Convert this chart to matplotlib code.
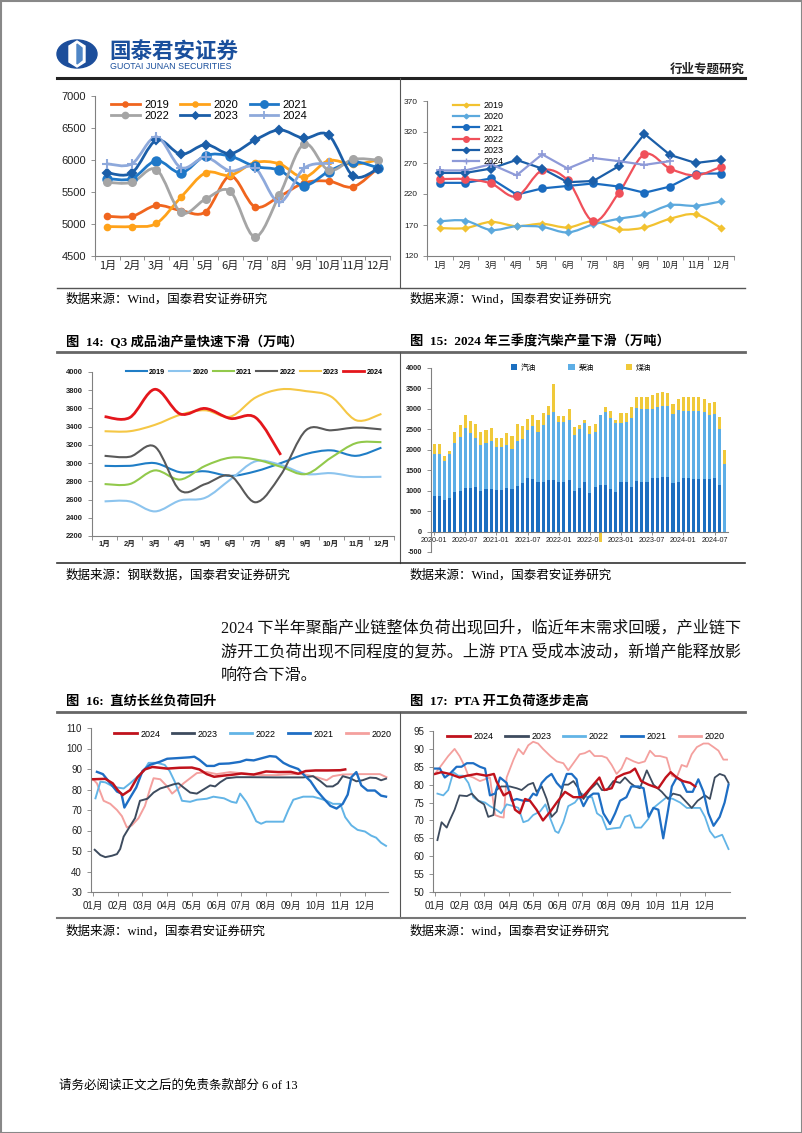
import numpy as np
import matplotlib
matplotlib.use("Agg")
import matplotlib.pyplot as plt
from matplotlib.path import Path
from matplotlib.patches import PathPatch, Ellipse, Polygon, Rectangle
from matplotlib.lines import Line2D

W, H = 802, 1133
SANS = ["Liberation Sans", "Noto Sans CJK SC"]
SERIF = ["Liberation Serif", "Noto Sans CJK SC"]
plt.rcParams["font.family"] = SANS
plt.rcParams["axes.unicode_minus"] = False

# ---------------- data ----------------
months = ["1月", "2月", "3月", "4月", "5月", "6月", "7月", "8月", "9月", "10月", "11月", "12月"]

# chart 1 (top left)
c1_2019 = [5120, 5120, 5290, 5210, 5190, 5750, 5270, 5430, 5640, 5670, 5580, 5870]
c1_2020 = [4960, 4960, 5010, 5420, 5800, 5760, 5960, 5940, 5730, 5990, 5930, 6000]
c1_2021 = [5710, 5710, 5990, 5800, 6070, 6060, 5900, 5840, 5600, 5820, 5970, 5880]
c1_2022 = [5650, 5650, 5850, 5180, 5390, 5510, 4800, 5450, 6250, 5840, 6010, 6000]
c1_2023 = [5800, 5800, 6310, 6090, 6240, 6100, 6310, 6470, 6340, 6390, 5750, 5860]
c1_2024 = [5940, 5940, 6360, 5880, 6040, 5830, 5880, 5340, 5870, 5950]

# chart 2 (top right)
c2_2019 = [165, 165, 175, 168, 172, 166, 176, 163, 166, 180, 187, 165]
c2_2020 = [176, 177, 162, 168, 167, 158, 171, 180, 187, 202, 201, 208]
c2_2021 = [238, 238, 245, 219, 229, 233, 237, 232, 222, 232, 253, 253]
c2_2022 = [244, 244, 237, 216, 258, 242, 176, 222, 284, 261, 250, 264]
c2_2023 = [254, 254, 261, 275, 261, 239, 241, 265, 317, 283, 270, 275]
c2_2024 = [258, 258, 268, 250, 284, 261, 278, 273, 267, 273]

# chart 3 (fig 14)
c3_2019 = [2970, 2970, 3000, 2900, 2910, 2860, 2910, 3000, 3100, 3140, 3080, 3170]
c3_2020 = [2580, 2580, 2470, 2590, 2620, 2820, 3020, 2980, 2880, 2890, 2850, 2850]
c3_2021 = [2770, 2770, 2920, 2820, 2970, 3060, 3040, 2960, 2880, 3060, 3220, 3230]
c3_2022 = [3080, 3070, 3180, 2700, 2770, 2860, 2570, 2870, 3360, 3360, 3390, 3370]
c3_2023 = [3350, 3350, 3420, 3530, 3580, 3510, 3720, 3810, 3790, 3730, 3470, 3540]
c3_2024 = [3510, 3500, 3810, 3540, 3600, 3490, 3500, 3090]

# chart 4 (fig 15): monthly 2020-01 .. 2024-09
gasoline = [880, 880, 760, 810, 960, 980, 1070, 1070, 1080, 990, 1040, 1030,
            1020, 1020, 1070, 1040, 1110, 1180, 1310, 1290, 1200, 1200, 1270, 1250,
            1200, 1200, 1250, 1000, 1070, 1200, 940, 1080, 1130, 1140, 1040, 960,
            1210, 1210, 1080, 1230, 1210, 1220, 1310, 1320, 1340, 1330, 1190, 1210,
            1300, 1300, 1290, 1290, 1290, 1280, 1310, 1140, 0]
diesel = [1010, 1020, 960, 1090, 1200, 1340, 1470, 1330, 1210, 1120, 1130, 1180,
          1060, 1060, 1040, 970, 1110, 1080, 1170, 1280, 1230, 1400, 1580, 1670,
          1480, 1480, 1490, 1370, 1450, 1450, 1440, 1350, 1730, 1790, 1730, 1690,
          1450, 1470, 1700, 1780, 1780, 1770, 1690, 1720, 1730, 1750, 1680, 1770,
          1650, 1650, 1650, 1650, 1630, 1560, 1570, 1360, 1660]
kerosene = [260, 250, 130, 80, 270, 280, 300, 300, 350, 320, 320, 330,
            220, 220, 310, 330, 400, 330, 280, 270, 290, 300, 230, 680,
            140, 140, 260, 190, 90, 90, 210, 200, -250, 120, 180, 90,
            230, 210, 270, 290, 300, 300, 340, 350, 350, 320, 250, 260,
            350, 350, 360, 350, 320, 310, 300, 290, 340]
bar_ticks = ["2020-01", "2020-07", "2021-01", "2021-07", "2022-01", "2022-07",
             "2023-01", "2023-07", "2024-01", "2024-07"]

# chart 5 (fig 16): x in months from 01月
c5_2024_x = [0, 0.5, 0.8, 1.0, 1.2, 1.5, 1.8, 2.1, 2.4, 3.0, 3.5, 4.0, 4.3, 4.6, 4.9, 5.3, 5.7,
             6.0, 6.5, 7.0, 7.5, 8.0, 8.3, 8.6, 9.0, 9.5, 10.0, 10.2]
c5_2024_y = [85, 85.2, 83, 79.7, 77.3, 79.7, 86, 89.8, 91, 90.2, 90.6, 90.7, 89.8, 87.5, 86.2,
             86.8, 87.3, 87.8, 87.3, 88.8, 88.5, 88.6, 87.7, 89, 89.3, 89.3, 89.4, 89.8]
c5_2023_x = [0.07, 0.3, 0.5, 0.77, 0.97, 1.1, 1.24, 1.44, 1.7, 1.9, 2.2, 2.45, 2.72, 3.0, 3.25,
             3.46, 3.66, 3.93, 4.2, 4.47, 4.74, 4.94, 5.14, 5.4, 5.8, 6.35, 7.4, 8.5, 8.9, 9.2,
             9.45, 9.7, 9.9, 10.1, 10.4, 10.65, 10.9, 11.2, 11.45, 11.65, 11.85]
c5_2023_y = [50.6, 48, 47, 47.7, 48.5, 51, 57, 61, 66, 74.5, 75.5, 78.5, 80.5, 81.5, 82.5,
             83, 81, 78.5, 78, 80, 82, 81.5, 83.5, 85.5, 86, 86, 85.9, 85.9, 86.5, 84,
             81.5, 81.5, 83, 86.5, 85.5, 84, 84.5, 85.8, 85.6, 84.5, 85.3]
c5_2022_x = [0.1, 0.3, 0.5, 0.77, 0.97, 1.24, 1.5, 1.78, 2.05, 2.25, 2.6, 2.9, 3.1, 3.3, 3.6,
             3.93, 4.2, 4.6, 4.87, 5.3, 5.6, 5.8, 5.95, 6.2, 6.4, 6.6, 6.8, 7.0, 7.4, 7.7, 7.9,
             8.1, 8.5, 8.9, 9.2, 9.45, 9.7, 10.0, 10.2, 10.45, 10.7, 11.0, 11.25, 11.45,
             11.65, 11.85]
c5_2022_y = [75.7, 83.8, 83.5, 81.7, 81, 80.5, 83, 86, 89, 93, 93, 92, 89, 84, 74.5,
             74, 75, 75.5, 76.5, 75.7, 74, 73.5, 78, 74, 69.5, 64.5, 63.3, 64.3, 64.3, 64.3, 70,
             75, 76.5, 76.5, 75.5, 74.5, 73, 73, 66.5, 62.5, 60.3, 59.5, 57.5, 56.5,
             54, 52.5]
c5_2021_x = [0.16, 0.4, 0.77, 0.97, 1.15, 1.27, 1.5, 1.75, 2.0, 2.3, 2.7, 3.0, 3.4, 3.65, 3.9,
             4.1, 4.3, 4.6, 4.9, 5.1, 5.5, 5.95, 6.2, 6.5, 6.9, 7.15, 7.4, 7.7, 7.95, 8.3,
             8.5, 8.8, 9.05, 9.3, 9.6, 9.85, 10.1, 10.3, 10.45, 10.65, 10.85, 11.1, 11.4,
             11.65, 11.85]
c5_2021_y = [88.6, 87.5, 82, 79, 78, 71.2, 76, 81, 89, 92, 93.5, 95, 95.3, 95.5, 95.7,
             96, 94.5, 91.5, 91.5, 92.5, 92.7, 93.5, 94.5, 94.2, 95.5, 96.3, 96, 93, 91.5, 90,
             87.5, 84, 79.5, 76, 72, 70.7, 73, 77.5, 86, 88.5, 82, 79.5, 79.5,
             77, 76.5]
c5_2020_x = [0, 0.16, 0.43, 0.7, 0.97, 1.17, 1.37, 1.57, 1.84, 2.1, 2.3, 2.45, 2.72, 3.0, 3.2,
             3.4, 3.66, 3.93, 4.2, 4.6, 5.0, 5.55, 5.95, 6.35, 6.9, 7.4, 7.97, 8.5, 9.05, 9.45,
             9.7, 10.1, 10.65, 11.2, 11.6, 11.87]
c5_2020_y = [85, 83, 74.5, 73, 70, 67, 61.5, 62.5, 66, 72, 80, 85.5, 85, 81.5, 78,
             80, 83, 85.5, 88, 88.5, 87.5, 88.5, 88, 87.5, 87, 87, 87.5, 87.5, 86, 84.5,
             86.5, 87.3, 87.5, 87.5, 87.5, 86]

# chart 6 (fig 17)
c6_2024_x = [0, 0.27, 0.6, 1.0, 1.3, 1.7, 2.1, 2.4, 2.5, 2.8, 3.05, 3.26, 3.46, 3.67, 3.87,
             4.14, 4.4, 4.7, 4.96, 5.3, 5.64, 6.0, 6.2, 6.45, 6.7, 6.9, 7.2, 7.4, 7.7, 7.95,
             8.15, 8.4, 8.7, 9.1, 9.4, 9.6, 9.85, 10.1, 10.4, 10.6]
c6_2024_y = [83, 83.5, 83, 82, 82.5, 83, 82.5, 83, 81, 77, 78, 73, 72, 76, 75.5,
             73, 70, 72.5, 75, 78, 76.5, 76.5, 78, 80, 82, 78.5, 79, 82, 83, 83.5,
             84.5, 81, 80, 79, 82, 83.5, 82, 81, 80.5, 79.5]
c6_2023_x = [0.1, 0.27, 0.48, 0.6, 0.8, 1.0, 1.3, 1.5, 1.77, 2.0, 2.17, 2.38, 2.5, 2.7, 3.05,
             3.33, 3.53, 3.8, 4.0, 4.14, 4.35, 4.55, 4.75, 4.96, 5.23, 5.43, 5.64, 5.84, 6.05,
             6.3, 6.6, 6.8, 7.0, 7.27, 7.54, 7.74, 7.95, 8.15, 8.35, 8.63, 8.9, 9.24, 9.5,
             9.7, 9.99, 10.26, 10.46, 10.7, 11.0, 11.2, 11.4, 11.6, 11.8, 11.96]
c6_2023_y = [64.5, 69.5, 68, 70, 73, 77, 76.8, 77.5, 75.5, 74.5, 71, 71.5, 78.5, 79.5, 79.5,
             79, 78.5, 80, 80.5, 78, 79.5, 76, 71, 72.5, 80, 80, 81, 79, 76,
             78.5, 80.5, 78.5, 78.5, 81, 80.5, 82, 80.5, 79.5, 79, 84, 80, 78, 76,
             77.5, 77, 75, 73.5, 75.5, 77, 76, 82, 83, 82.5, 80.5]
c6_2022_x = [0.1, 0.34, 0.54, 0.75, 0.95, 1.15, 1.36, 1.56, 1.77, 2.04, 2.24, 2.5, 2.7, 2.92,
             3.2, 3.4, 3.6, 3.8, 4.0, 4.28, 4.5, 4.7, 4.9, 5.03, 5.23, 5.43, 5.7, 5.98, 6.2,
             6.4, 6.6, 6.8, 7.0, 7.27, 7.54, 7.74, 7.95, 8.15, 8.4, 8.7, 8.9, 9.17, 9.44, 9.7,
             9.99, 10.26, 10.5, 10.8, 11.0, 11.2, 11.4, 11.7, 11.96]
c6_2022_y = [77.5, 77, 78.5, 83.5, 82.5, 82.5, 80.5, 76.5, 75.5, 75, 74, 73, 72, 74.5,
             74, 73.5, 69.5, 70, 71.5, 72.5, 74.5, 70.5, 67, 66.5, 69.5, 74, 75, 77.5, 76.5,
             76.5, 72, 71, 67.5, 67.8, 68, 71, 71.5, 68, 68, 70.5, 73.5, 75, 76.5, 76,
             75, 73.5, 73.5, 73.5, 71, 67, 65.2, 66, 62]
c6_2021_x = [0, 0.2, 0.4, 0.6, 0.88, 1.08, 1.3, 1.56, 1.83, 2.04, 2.24, 2.45, 2.65, 2.92,
             3.13, 3.33, 3.6, 3.8, 4.0, 4.14, 4.35, 4.55, 4.75, 4.96, 5.16, 5.37, 5.57, 5.77,
             5.9, 6.05, 6.25, 6.45, 6.66, 6.86, 7.13, 7.34, 7.54, 7.8, 8.0, 8.3, 8.5, 8.7,
             8.9, 9.1, 9.3, 9.5, 9.65, 9.85, 10.05, 10.26, 10.5, 10.73, 10.94, 11.14, 11.35,
             11.6, 11.8, 11.96]
c6_2021_y = [84.5, 84.5, 82, 83, 85, 85, 86, 86, 85, 84.5, 77, 77.5, 82, 80.5,
             75.5, 76, 75.5, 75.5, 77.5, 77, 80.5, 82, 83, 80.5, 79, 83, 83, 81.5,
             76.5, 74, 76.5, 77.5, 77.5, 72, 69, 72, 75.5, 76.5, 79.5, 79.5, 79, 71,
             73.5, 73, 65, 73, 79.5, 82, 81, 78, 78, 81.5, 78, 72, 68.5,
             71, 75, 80]
c6_2020_x = [0, 0.27, 0.54, 0.8, 1.0, 1.22, 1.36, 1.56, 1.83, 2.04, 2.24, 2.45, 2.65, 2.8,
             2.92, 3.2, 3.4, 3.6, 3.8, 4.0, 4.2, 4.4, 4.7, 4.96, 5.23, 5.43, 5.64, 5.9, 6.1,
             6.3, 6.5, 6.8, 7.0, 7.2, 7.4, 7.6, 7.8, 8.1, 8.3, 8.55, 8.76, 8.97, 9.17, 9.44,
             9.65, 9.85, 10.05, 10.26, 10.46, 10.67, 10.94, 11.14, 11.35, 11.55, 11.75, 11.9]
c6_2020_y = [83, 85.5, 88, 90, 88, 85, 82.5, 82, 81, 81.5, 82, 71.5, 71, 70.8,
             82, 87, 90, 88.5, 91, 92, 91.5, 90, 88, 86.5, 86, 84, 86, 88.5, 88.8,
             89.5, 88, 88, 87.5, 85.5, 83, 84.5, 87.5, 86.5, 86, 86.5, 89.5, 88, 88, 87.5,
             82.5, 82, 85.5, 85, 88.5, 90.5, 91.5, 91.5, 90.5, 89.5, 87, 87]
month2 = ["01月", "02月", "03月", "04月", "05月", "06月", "07月", "08月", "09月", "10月", "11月", "12月"]

fig = plt.figure(figsize=(W / 100, H / 100), dpi=100)


def px_ax(x0, y0, x1, y1):
    return fig.add_axes([x0 / W, 1 - y1 / H, (x1 - x0) / W, (y1 - y0) / H])


def ftext(x, y, s, **kw):
    fig.text(x / W, 1 - y / H, s, **kw)


def hline(y, x0, x1, lw=1.0, color="#555555"):
    fig.add_artist(Line2D([x0 / W, x1 / W], [1 - y / H, 1 - y / H], lw=lw, color=color))


def vline(x, y0, y1, lw=0.8, color="#555555"):
    fig.add_artist(Line2D([x / W, x / W], [1 - y0 / H, 1 - y1 / H], lw=lw, color=color))


def smooth(ax, x, y, **kw):
    pts = np.column_stack([x, y]).astype(float)
    n = len(pts)
    verts, codes = [pts[0]], [Path.MOVETO]
    for i in range(n - 1):
        p0 = pts[i - 1] if i > 0 else pts[i]
        p3 = pts[i + 2] if i + 2 < n else pts[i + 1]
        verts += [pts[i] + (pts[i + 1] - p0) / 6, pts[i + 1] - (p3 - pts[i]) / 6, pts[i + 1]]
        codes += [Path.CURVE4] * 3
    ax.add_patch(PathPatch(Path(verts, codes), fill=False, **kw))


def style(ax, lsize=7.5):
    for s in ("top", "right"):
        ax.spines[s].set_visible(False)
    for s in ("left", "bottom"):
        ax.spines[s].set_color("#808080")
        ax.spines[s].set_linewidth(0.8)
    ax.tick_params(colors="#808080", labelcolor="#222222", labelsize=lsize, length=3, width=0.6)


# ---------------- page frame / header ----------------
fig.add_artist(Rectangle((0.5 / W, 0.5 / H), 1 - 1 / W, 1 - 1 / H, transform=fig.transFigure,
                         fill=False, ec="#888888", lw=1.5))
fig.add_artist(Ellipse((77 / W, 1 - 54 / H), 40 / W, 28 / H, transform=fig.transFigure,
                       color="#1C4E9B"))
fig.add_artist(Polygon([(77 / W, 1 - 41 / H), (85 / W, 1 - 46 / H), (85 / W, 1 - 62 / H),
                        (77 / W, 1 - 67 / H), (69 / W, 1 - 62 / H), (69 / W, 1 - 46 / H)],
                       closed=True, transform=fig.transFigure, color="white"))
fig.add_artist(Polygon([(77 / W, 1 - 44 / H), (82 / W, 1 - 48 / H), (82 / W, 1 - 60 / H),
                        (77 / W, 1 - 64 / H)], closed=True, transform=fig.transFigure,
                       color="#4F86C6"))
ftext(109, 51, "国泰君安证券", fontsize=15.5, fontweight="bold", color="#1A4F9C",
      family="Noto Sans CJK SC", va="center")
ftext(110, 66.5, "GUOTAI JUNAN SECURITIES", fontsize=6.4, color="#1A4F9C", va="center")
ftext(745, 69, "行业专题研究", fontsize=9, fontweight="bold", color="#222222",
      family="Noto Sans CJK SC", ha="right", va="center")
hline(78, 57, 745, lw=2.2, color="#222222")

# ---------------- row 1 ----------------
vline(400, 78, 288)
hline(288, 57, 745, lw=1.0)
ftext(66, 299, "数据来源：Wind，国泰君安证券研究", fontsize=9, family=SERIF, va="center")
ftext(410, 299, "数据来源：Wind，国泰君安证券研究", fontsize=9, family=SERIF, va="center")

ax1 = px_ax(95, 96, 390, 256)
cx = np.arange(12)
c1 = [("2019", c1_2019, "#F0651E", "o", 4), ("2020", c1_2020, "#FFA21A", "o", 4),
      ("2021", c1_2021, "#1F78C8", "o", 6), ("2022", c1_2022, "#A5A5A5", "o", 5),
      ("2023", c1_2023, "#1B5EA8", "D", 4), ("2024", c1_2024, "#8EA9DB", "+", 7)]
h1 = {}
for name, vals, col, mk, ms in c1:
    xs = cx[:len(vals)]
    smooth(ax1, xs, vals, ec=col, lw=2.0, zorder=2)
    ax1.plot(xs, vals, ls="none", marker=mk, ms=ms, color=col, mew=1.5, zorder=3)
    h1[name] = Line2D([], [], color=col, lw=2.0, marker=mk, ms=ms * 0.85, mew=1.3, label=name)
ax1.set_xlim(-0.5, 11.5)
ax1.set_ylim(4500, 7000)
ax1.set_yticks(np.arange(4500, 7001, 500))
ax1.set_xticks(cx)
ax1.set_xticklabels(months, fontsize=6, family="Noto Sans CJK SC")
ax1.set_xticks(np.arange(-0.5, 12, 1), minor=True)
style(ax1, 8)
ax1.tick_params(axis="x", which="major", length=0)
ax1.tick_params(axis="x", which="minor", length=3, color="#808080")
order1 = ["2019", "2022", "2020", "2023", "2021", "2024"]
ax1.legend(handles=[h1[n] for n in order1], ncol=3, loc="upper left",
           bbox_to_anchor=(0.02, 1.04), frameon=False, fontsize=8, handlelength=2.6,
           columnspacing=1.0, labelspacing=0.15, handletextpad=0.4)

ax2 = px_ax(427, 101, 734, 256)
c2 = [("2019", c2_2019, "#F2C230", "D", 3, True), ("2020", c2_2020, "#5CA9DD", "D", 3, True),
      ("2021", c2_2021, "#1A6BBF", "o", 5, False), ("2022", c2_2022, "#F0505A", "o", 5, True),
      ("2023", c2_2023, "#1B5EA8", "D", 4, False), ("2024", c2_2024, "#8E9AD8", "+", 6, False)]
h2 = []
for name, vals, col, mk, ms, sm in c2:
    xs = cx[:len(vals)]
    if sm:
        smooth(ax2, xs, vals, ec=col, lw=1.6, zorder=2)
    else:
        ax2.plot(xs, vals, color=col, lw=1.6, zorder=2)
    ax2.plot(xs, vals, ls="none", marker=mk, ms=ms, color=col, mew=1.2, zorder=3)
    h2.append(Line2D([], [], color=col, lw=1.6, marker=mk, ms=ms * 0.8, mew=1.0, label=name))
ax2.set_xlim(-0.5, 11.5)
ax2.set_ylim(120, 370)
ax2.set_yticks(np.arange(120, 371, 50))
ax2.set_xticks(cx)
ax2.set_xticklabels(months, fontsize=5.5, family="Noto Sans CJK SC")
ax2.set_xticks(np.arange(-0.5, 12, 1), minor=True)
style(ax2, 6)
ax2.tick_params(axis="x", which="major", length=0)
ax2.tick_params(axis="x", which="minor", length=3, color="#808080")
ax2.legend(handles=h2, ncol=1, loc="upper left", bbox_to_anchor=(0.065, 1.04), frameon=False,
           fontsize=6.5, handlelength=2.8, labelspacing=0.25, handletextpad=0.5,
           borderpad=0.2)

# ---------------- row 2 ----------------
ftext(66, 342, "图  14:  Q3 成品油产量快速下滑（万吨）", fontsize=9.5, fontweight="bold",
      family=SERIF, va="center")
ftext(410, 342, "图  15:  2024 年三季度汽柴产量下滑（万吨）", fontsize=9.5, fontweight="bold",
      family=SERIF, va="center")
hline(352, 57, 745, lw=2.0, color="#666666")
vline(400, 352, 563)
hline(563, 57, 745, lw=1.2, color="#333333")
ftext(66, 575, "数据来源：钢联数据，国泰君安证券研究", fontsize=9, family=SERIF, va="center")
ftext(410, 575, "数据来源：Wind，国泰君安证券研究", fontsize=9, family=SERIF, va="center")

ax3 = px_ax(92, 372, 394, 536)
c3 = [("2019", c3_2019, "#1F7DC6"), ("2020", c3_2020, "#8CC4EE"), ("2021", c3_2021, "#92C94B"),
      ("2022", c3_2022, "#595959"), ("2023", c3_2023, "#F5C745"), ("2024", c3_2024, "#E4161C")]
h3 = []
for name, vals, col in c3:
    xs = cx[:len(vals)]
    lw = 2.0 if name == "2024" else 1.5
    smooth(ax3, xs, vals, ec=col, lw=lw, zorder=2)
    h3.append(Line2D([], [], color=col, lw=lw, label=name))
ax3.set_xlim(-0.5, 11.5)
ax3.set_ylim(2200, 4000)
ax3.set_yticks(np.arange(2200, 4001, 200))
ax3.set_xticks(cx)
ax3.set_xticklabels(months, fontsize=5.5, fontweight="bold")
ax3.set_xticks(np.arange(-0.5, 12, 1), minor=True)
style(ax3, 5.5)
for t in ax3.get_yticklabels():
    t.set_fontweight("bold")
ax3.tick_params(axis="x", which="major", length=0)
ax3.tick_params(axis="x", which="minor", length=3, color="#808080")
ax3.legend(handles=h3, ncol=6, loc="center", bbox_to_anchor=(0.537, 1.0), frameon=False,
           prop={"size": 5.2, "weight": "bold"}, handlelength=2.9, columnspacing=0.6,
           handletextpad=0.3)

ax4 = px_ax(431, 368, 728, 552)
bx = np.arange(len(gasoline))
g = np.array(gasoline)
d = np.array(diesel)
k = np.array(kerosene)
ax4.bar(bx, g, width=0.6, color="#1B6FC0", label="汽油", zorder=2)
ax4.bar(bx, d, width=0.6, bottom=g, color="#5DAEE6", label="柴油", zorder=2)
ax4.bar(bx, k, width=0.6, bottom=np.where(k >= 0, g + d, 0), color="#F0C93A", label="煤油",
        zorder=2)
ax4.set_xlim(-0.6, len(gasoline) - 0.4)
ax4.set_ylim(-500, 4000)
ax4.set_yticks(np.arange(-500, 4001, 500))
ax4.set_xticks(bx[::6])
ax4.set_xticklabels(bar_ticks, fontsize=5.2, fontweight="bold")
style(ax4, 5.2)
for t in ax4.get_yticklabels():
    t.set_fontweight("bold")
ax4.spines["bottom"].set_position(("data", 0))
ax4.tick_params(axis="x", length=2, pad=2)
ax4.legend(ncol=3, loc="center", bbox_to_anchor=(0.505, 1.0), frameon=False,
           prop={"size": 5.5, "family": "Noto Sans CJK SC"}, handlelength=0.8,
           handleheight=0.8, columnspacing=4.2, handletextpad=0.5)

# ---------------- paragraph ----------------
para = ["2024 下半年聚酯产业链整体负荷出现回升，临近年末需求回暖，产业链下",
        "游开工负荷出现不同程度的复苏。上游 PTA 受成本波动，新增产能释放影",
        "响符合下滑。"]
for i, line in enumerate(para):
    ftext(221, 628 + 24 * i, line, fontsize=11.6, family=SERIF, va="center", color="#111111")

# ---------------- row 3 ----------------
ftext(66, 701, "图  16:  直纺长丝负荷回升", fontsize=9.5, fontweight="bold", family=SERIF,
      va="center")
ftext(410, 701, "图  17:  PTA 开工负荷逐步走高", fontsize=9.5, fontweight="bold", family=SERIF,
      va="center")
hline(712, 57, 745, lw=2.0, color="#666666")
vline(400, 712, 918)
hline(918, 57, 745, lw=1.5, color="#777777")
ftext(66, 931, "数据来源：wind，国泰君安证券研究", fontsize=9, family=SERIF, va="center")
ftext(410, 931, "数据来源：wind，国泰君安证券研究", fontsize=9, family=SERIF, va="center")

cols5 = {"2024": "#C0121C", "2023": "#3D4B5E", "2022": "#62B4E6", "2021": "#1E6EC4",
         "2020": "#F4A09E"}

ax5 = px_ax(91, 728, 388, 892)
s5 = [("2020", c5_2020_x, c5_2020_y, 1.4), ("2022", c5_2022_x, c5_2022_y, 1.4),
      ("2023", c5_2023_x, c5_2023_y, 1.4), ("2021", c5_2021_x, c5_2021_y, 1.7),
      ("2024", c5_2024_x, c5_2024_y, 1.8)]
for name, xs, ys, lw in s5:
    ax5.plot(xs, ys, color=cols5[name], lw=lw)
h5 = [Line2D([], [], color=cols5[n], lw=2, label=n) for n in ["2024", "2023", "2022", "2021", "2020"]]
ax5.set_xlim(-0.08, 11.93)
ax5.set_ylim(30, 110)
ax5.set_yticks(np.arange(30, 111, 10))
ax5.set_xticks(np.arange(12))
ax5.set_xticklabels(month2, fontsize=6.5)
style(ax5, 7)
ax5.legend(handles=h5, ncol=5, loc="center", bbox_to_anchor=(0.545, 0.963), frameon=False,
           fontsize=6.5, handlelength=2.5, columnspacing=1.3, handletextpad=0.4)

ax6 = px_ax(433, 731, 730, 892)
s6 = [("2020", c6_2020_x, c6_2020_y, 1.3), ("2022", c6_2022_x, c6_2022_y, 1.3),
      ("2023", c6_2023_x, c6_2023_y, 1.3), ("2021", c6_2021_x, c6_2021_y, 1.6),
      ("2024", c6_2024_x, c6_2024_y, 1.7)]
for name, xs, ys, lw in s6:
    ax6.plot(xs, ys, color=cols5[name], lw=lw)
ax6.set_xlim(-0.08, 12.02)
ax6.set_ylim(50, 95)
ax6.set_yticks(np.arange(50, 96, 5))
ax6.set_xticks(np.arange(12))
ax6.set_xticklabels(month2, fontsize=6.5)
style(ax6, 7)
ax6.legend(handles=h5, ncol=5, loc="center", bbox_to_anchor=(0.515, 0.963), frameon=False,
           fontsize=6.5, handlelength=2.5, columnspacing=1.3, handletextpad=0.4)

# ---------------- footer ----------------
ftext(59, 1086, "请务必阅读正文之后的免责条款部分 6 of 13", fontsize=9, family=SERIF, va="center")

fig.savefig("out.png", dpi=100)
